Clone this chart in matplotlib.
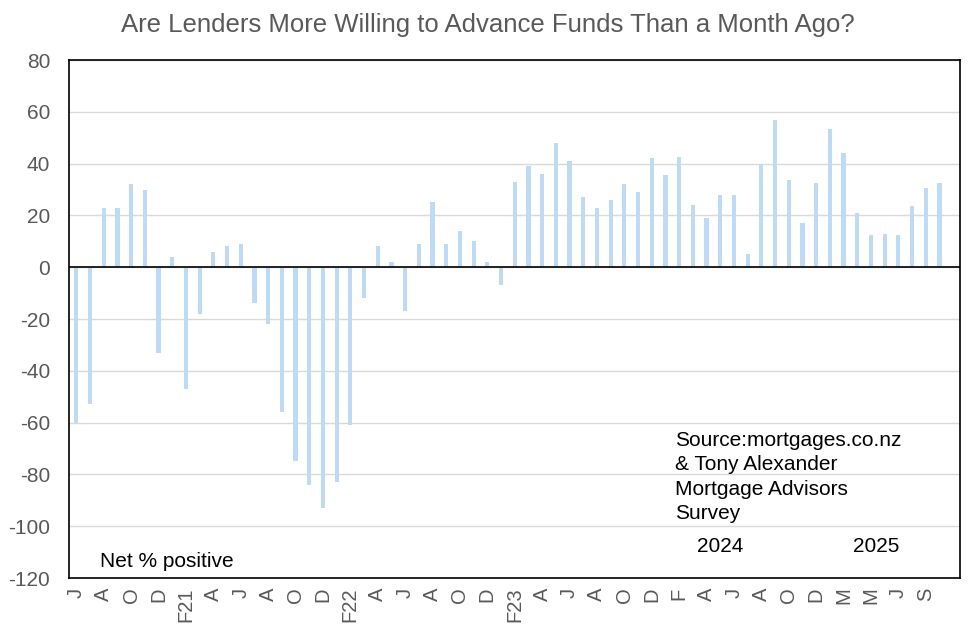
import numpy as np
import matplotlib
matplotlib.use('Agg')
import matplotlib.pyplot as plt

# monthly net % of advisors saying lenders are more willing, Jun 2020 onwards
values = [-60, -53, 23, 23, 32, 30, -33, 4, -47, -18,
          6, 8, 9, -14, -22, -56, -75, -84, -93, -83,
          -61, -12, 8, 2, -17, 9, 25, 9, 14, 10,
          2, -7, 33, 39, 36, 48, 41, 27, 23, 26,
          32, 29, 42, 35.5, 42.5, 24, 19, 28, 28, 5,
          40, 57, 33.5, 17, 32.5, 53.5, 44, 21, 12.5, 13,
          12.5, 23.5, 30.5, 32.5]

# every second month gets a label
tick_labels = ['J', 'A', 'O', 'D', 'F21', 'A', 'J', 'A', 'O', 'D', 'F22',
               'A', 'J', 'A', 'O', 'D', 'F23', 'A', 'J', 'A', 'O', 'D',
               'F', 'A', 'J', 'A', 'O', 'D', 'M', 'M', 'J', 'S']

plt.rcParams['font.family'] = ['Liberation Sans', 'DejaVu Sans']
plt.rcParams['axes.unicode_minus'] = False

grey = '#595959'
fig = plt.figure(figsize=(9.76, 6.37), dpi=100)
ax = fig.add_axes([0.0712, 0.0926, 0.9124, 0.8132])

x = np.arange(len(values))
ax.bar(x, values, width=0.31, color='#bfdaf5', zorder=2)
ax.axhline(0, color='black', linewidth=1.2, zorder=3)

ax.set_xlim(-0.5, len(values) + 0.5)
ax.set_ylim(-120, 80)
ax.set_yticks(range(-120, 81, 20))
ax.set_xticks(x[::2])
ax.set_xticklabels(tick_labels, rotation=90)
ax.tick_params(axis='both', length=0, colors=grey)
ax.tick_params(axis='y', labelsize=15, pad=14)
ax.tick_params(axis='x', labelsize=14.5, pad=7)
ax.grid(axis='y', color='#d9d9d9', linewidth=1, zorder=0)
for s in ax.spines.values():
    s.set_color('black')
    s.set_linewidth(1.2)

fig.text(0.5, 0.96, 'Are Lenders More Willing to Advance Funds Than a Month Ago?',
         fontsize=18.5, color=grey, ha='center', va='center')

ax.text(1.7, -113.5, 'Net % positive', fontsize=15, va='center')
ax.text(43.7, -63.2, 'Source:mortgages.co.nz\n& Tony Alexander\nMortgage Advisors\nSurvey',
        fontsize=15, va='top', linespacing=1.36)
ax.text(47, -108, '2024', fontsize=15, ha='center', va='center')
ax.text(58.4, -108, '2025', fontsize=15, ha='center', va='center')

plt.savefig('out.png', dpi=100)
